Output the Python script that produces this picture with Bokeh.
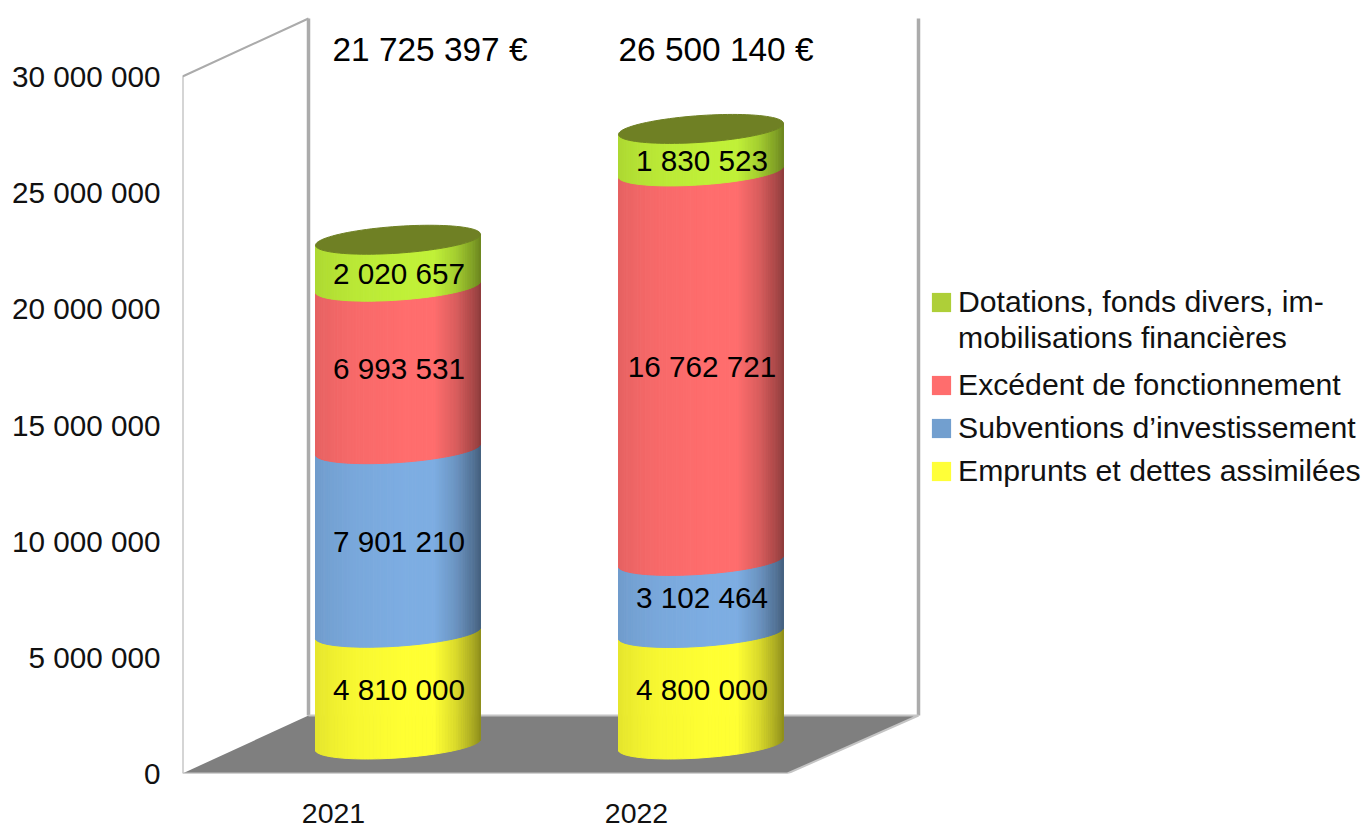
from bokeh.plotting import figure
from bokeh.embed import file_html
from bokeh.resources import INLINE
from bokeh.models import Legend, LegendItem, ColumnDataSource, FixedTicker
from bokeh.core.properties import value
import numpy as np

# ---- data -------------------------------------------------------------
years = [2021, 2022]
emprunts = [4810000, 4800000]
subventions = [7901210, 3102464]
excedent = [6993531, 16762721]
dotations = [2020657, 1830523]
totals = ["21 725 397 €", "26 500 140 €"]
series_colors = ["#ffff33", "#7dade2", "#ff6d6d", "#c0f038"]
legend_names = ["Emprunts et dettes assimilées", "Subventions d’investissement",
                "Excédent de fonctionnement"]
legend_colors = ["#ffff38", "#729fcf", "#ff6d6d"]
legend_top_lines = ["Dotations, fonds divers, im-", "mobilisations financières"]
legend_top_color = "#aecf38"
y_ticks = [0, 5000000, 10000000, 15000000, 20000000, 25000000, 30000000]
cap_color = "#6f8024"

# ---- layout (image pixels of the figure) -------------------------------
W, H = 1362, 827
FRAME_L, FRAME_T, FRAME_B = 182, 0, 773
PX_PER_VAL = 697 / 30e6
PX_PER_YEAR = 303
TICK0 = 333
FONT = value("Liberation Sans")


def X(px):
    return 2021 + (px - TICK0) / PX_PER_YEAR


def Y(py):
    return (FRAME_B - py) / PX_PER_VAL


p = figure(width=W, height=H, output_backend="svg", toolbar_location=None,
           x_range=(X(FRAME_L), X(W)), y_range=(0, Y(FRAME_T)),
           min_border_left=FRAME_L, min_border_right=0, min_border_top=0,
           min_border_bottom=H - FRAME_B, background_fill_color=None,
           border_fill_color=None, outline_line_color=None)
p.grid.visible = False

p.yaxis.ticker = FixedTicker(ticks=y_ticks)
p.yaxis.major_label_overrides = {t: f"{t:,}".replace(",", " ") for t in y_ticks}
p.yaxis.major_label_text_font = "Liberation Sans"
p.yaxis.major_label_text_font_size = "29.7px"
p.yaxis.major_label_text_color = "#111111"
p.yaxis.major_label_standoff = 22
p.yaxis.major_tick_in = 0
p.yaxis.major_tick_out = 0
p.yaxis.axis_line_color = None
p.yaxis.major_tick_line_color = None
p.yaxis.minor_tick_line_color = None

p.xaxis.ticker = FixedTicker(ticks=years)
p.xaxis.major_label_overrides = {y: str(y) for y in years}
p.xaxis.major_label_text_font = "Liberation Sans"
p.xaxis.major_label_text_font_size = "28.5px"
p.xaxis.major_label_text_color = "#111111"
p.xaxis.major_label_standoff = 30
p.xaxis.major_label_text_line_height = 0.6
p.xaxis.major_tick_in = 0
p.xaxis.major_tick_out = 0
p.xaxis.axis_line_color = None
p.xaxis.major_tick_line_color = None
p.xaxis.minor_tick_line_color = None

# ---- walls and floor ---------------------------------------------------
wall = "#ababab"
p.patch([X(182), X(308), X(918), X(787)], [Y(773), Y(715), Y(715), Y(773)],
        fill_color="#7f7f7f", line_color=None)
p.line([X(182), X(182), X(308)], [Y(773), Y(76), Y(18)],
       line_color=wall, line_width=2)
p.line([X(308), X(308)], [Y(18), Y(715)], line_color=wall, line_width=3.5)
p.line([X(918), X(918)], [Y(18), Y(715)], line_color=wall, line_width=3.5)
p.line([X(308), X(918), X(787), X(182)], [Y(715), Y(715), Y(773), Y(773)],
       line_color="#c4c4c4", line_width=2)

# ---- cylinders ---------------------------------------------------------
CX_OFFSET = 64.5 / PX_PER_YEAR
RADIUS = 82.5 / PX_PER_YEAR
BASE = Y(744)
TILT = 5.5 / PX_PER_VAL
SAG = 13.4 / PX_PER_VAL
N = 72
thetas = np.linspace(np.pi, 0, N + 1)
shade_u = [0, .08, .25, .55, .72, .85, .95, 1]
shade_f = [.90, .93, .97, 1, 1, .86, .68, .57]


def rgb(c, f=1.0):
    return "#%02x%02x%02x" % tuple(int(round(int(c[i:i + 2], 16) * f)) for i in (1, 3, 5))


stack = [emprunts, subventions, excedent, dotations]
for b, year in enumerate(years):
    cx = year + CX_OFFSET
    low = 0.0
    xs_all, ys_all, cols = [], [], []
    label_x, label_y, label_t = [], [], []
    for s, col in zip(stack, series_colors):
        v = s[b]
        up = low + v
        for i in range(N):
            t0, t1 = thetas[i], thetas[i + 1]
            x0, x1 = cx + RADIUS * np.cos(t0), cx + RADIUS * np.cos(t1)
            d0 = TILT * np.cos(t0) - SAG * np.sin(t0)
            d1 = TILT * np.cos(t1) - SAG * np.sin(t1)
            xs_all.append([x0, x1, x1, x0])
            ys_all.append([BASE + low + d0, BASE + low + d1, BASE + up + d1, BASE + up + d0])
            u = (x0 + x1) / 2
            u = (u - (cx - RADIUS)) / (2 * RADIUS)
            cols.append(rgb(col, float(np.interp(u, shade_u, shade_f))))
        top_seg = s is dotations
        label_x.append(cx + 1 / PX_PER_YEAR)
        label_y.append(BASE + (low + up) / 2 - (10 if top_seg else 0.5) / PX_PER_VAL)
        label_t.append(f"{v:,}".replace(",", " "))
        low = up
    p.patches(xs="xs", ys="ys", fill_color="c", line_color="c", line_width=1,
              source=ColumnDataSource(dict(xs=xs_all, ys=ys_all, c=cols)))
    th = np.linspace(0, 2 * np.pi, 97)
    p.patch(cx + RADIUS * np.cos(th),
            BASE + low + TILT * np.cos(th) - SAG * np.sin(th),
            fill_color=cap_color, line_color=cap_color, line_width=1)
    p.text(x="x", y="y", text="t", source=ColumnDataSource(dict(x=label_x, y=label_y, t=label_t)),
           text_font=FONT, text_font_size="29.7px", text_align="center",
           text_baseline="middle", text_color="#000000")

# ---- totals above the columns ------------------------------------------
p.text(x=[X(429.5), X(715.5)], y=[Y(49), Y(49)], text=totals, text_font=FONT,
       text_font_size="33.4px", text_align="center", text_baseline="middle",
       text_color="#000000")


# ---- legend ------------------------------------------------------------
def swatch(col, alpha=1.0):
    return p.rect(x=[float("nan")], y=[float("nan")], width=[1], height=[1],
                  fill_color=col, fill_alpha=alpha, line_color=None)


common = dict(orientation="vertical", border_line_color=None, background_fill_alpha=0,
              padding=0, margin=0, glyph_width=24, glyph_height=24, label_standoff=5,
              label_text_font="Liberation Sans", label_text_font_size="30.2px",
              label_text_color="#111111")

lower_items = [LegendItem(label=n, renderers=[swatch(c)])
               for n, c in zip(reversed(legend_names), reversed(legend_colors))]
p.add_layout(Legend(items=lower_items, location=(747, 285), spacing=9, **common), "center")

upper_items = [LegendItem(label=legend_top_lines[0], renderers=[swatch(legend_top_color)]),
               LegendItem(label=legend_top_lines[1], renderers=[swatch(legend_top_color, 0.0)])]
p.add_layout(Legend(items=upper_items, location=(747, 418), spacing=2, **common), "center")

open("out.html", "w").write(file_html(p, INLINE))
